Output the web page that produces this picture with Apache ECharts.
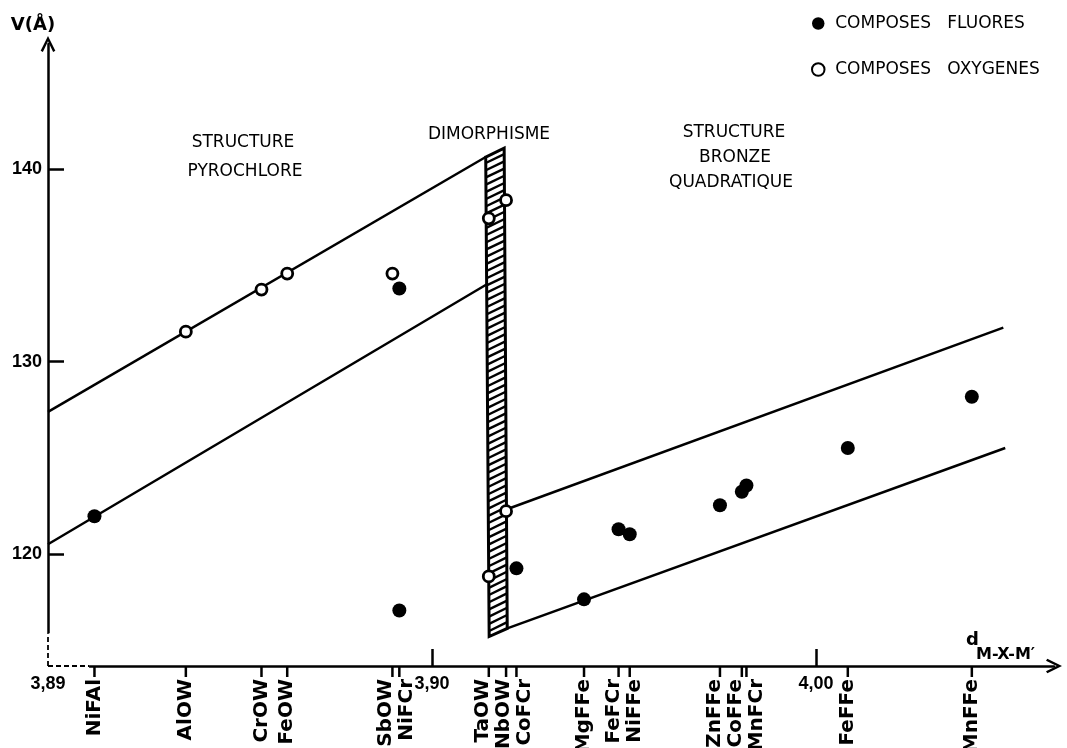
<!DOCTYPE html>
<html><head><meta charset="utf-8">
<script src="https://cdn.jsdelivr.net/npm/echarts@6/dist/echarts.min.js"></script>
<style>html,body{margin:0;padding:0;background:#fff}#c{width:1067px;height:748px}</style>
</head><body><div id="c"></div>
<script>
// ---- data ----
const xTickValues = [3.80, 3.90, 4.00];
const xTickLabels = ['3,89', '3,90', '4,00'];
const xMajorTicks = [3.90, 4.00];
const yTickValues = [120, 130, 140];
const yTickLabels = ['120', '130', '140'];

const compoundNames = ['NiFAl','AlOW','CrOW','FeOW','SbOW','NiFCr','TaOW','NbOW','CoFCr','MgFFe','FeFCr','NiFFe','ZnFFe','CoFFe','MnFCr','FeFFe','MnFFe'];
const compoundD = [3.8121,3.8359,3.8556,3.8623,3.8897,3.8915,3.9148,3.9193,3.9220,3.9396,3.9486,3.9515,3.9750,3.9807,3.9819,4.0083,4.0406];

const fluorideCompound = ['NiFAl','NiFCr','NiFCr','CoFCr','MgFFe','FeFCr','NiFFe','ZnFFe','CoFFe','MnFCr','FeFFe','MnFFe'];
const fluorideV = [121.98,133.80,117.08,119.27,117.66,121.30,121.04,122.55,123.25,123.57,125.52,128.18];

const oxideCompound = ['AlOW','CrOW','FeOW','SbOW','TaOW','NbOW','NbOW','TaOW'];
const oxideV = [131.56,133.75,134.58,134.58,137.45,138.39,122.24,118.85];

const pyroUpper = [[3.800,127.40],[3.9140,140.63]];
const pyroLower = [[3.800,120.52],[3.9142,134.01]];
const bronzeUpper = [[3.9195,122.34],[4.0488,131.77]];
const bronzeLower = [[3.9196,116.15],[4.0493,125.52]];
const dimorphBar = [[3.9140,140.63],[3.9188,141.09],[3.9196,116.15],[3.9149,115.73]];

const legendNames = ['COMPOSES   FLUORES', 'COMPOSES   OXYGENES'];

// ---- axis extents ----
const xMin = 3.80, xMax = 4.062, yMin = 114.2, yMax = 146.5;
const xBreak = 3.8107, yBreak = 115.9;

const dOf = name => compoundD[compoundNames.indexOf(name)];
const fluoridePts = fluorideCompound.map((c, i) => [dOf(c), fluorideV[i]]);
const oxidePts = oxideCompound.map((c, i) => [dOf(c), oxideV[i]]);

const arrowPath = 'path://M0,10L5,0L10,10L8.5,10.9L5,3.6L1.5,10.9Z';
const numFont = {fontFamily: 'Liberation Sans', fontWeight: 'bold', fontSize: 18, color: '#000'};
const titleFont = '17px "DejaVu Sans"';

function spread(xs, gap) {
  const p = xs.slice();
  for (let it = 0; it < 300; it++) {
    for (let i = 1; i < p.length; i++) {
      const diff = p[i] - p[i - 1];
      if (diff < gap) { const s = (gap - diff) / 2; p[i - 1] -= s; p[i] += s; }
    }
  }
  return p;
}

const lineSeries = (data) => ({
  type: 'line', data, symbol: 'none', silent: true, z: 3,
  lineStyle: {color: '#000', width: 2.5}, animation: false
});

const txt = (x, y, text, font, align) => ({type: 'text', x, y, style: {text, font: font || titleFont, fill: '#000', align: align || 'center', verticalAlign: 'middle'}});

const chart = echarts.init(document.getElementById('c'), null, {renderer: 'canvas'});
chart.setOption({
  backgroundColor: '#fff',
  animation: false,
  grid: {left: 48, right: 13, top: 44, bottom: 82, containLabel: false, outerBoundsMode: 'none'},
  xAxis: {
    type: 'value', min: xMin, max: xMax,
    splitLine: {show: false},
    axisLine: {show: true, onZero: false, lineStyle: {color: '#000', width: 2.5},
      symbol: ['none', arrowPath], symbolSize: [20, 16]},
    axisTick: {show: true, inside: true, length: 17, customValues: xMajorTicks, lineStyle: {color: '#000', width: 2.5}},
    axisLabel: {show: true, margin: 9, customValues: xTickValues, ...numFont,
      formatter: v => { const i = xTickValues.findIndex(t => Math.abs(t - v) < 1e-6); return i >= 0 ? xTickLabels[i] : ''; }}
  },
  yAxis: {
    type: 'value', min: yMin, max: yMax,
    splitLine: {show: false},
    axisLine: {show: true, onZero: false, lineStyle: {color: '#000', width: 2.5},
      symbol: ['none', arrowPath], symbolSize: [18, 16]},
    axisTick: {show: true, inside: true, length: 16, customValues: yTickValues, lineStyle: {color: '#000', width: 2.5}},
    axisLabel: {show: true, margin: 6, customValues: yTickValues, ...numFont,
      formatter: v => { const i = yTickValues.findIndex(t => Math.abs(t - v) < 1e-6); return i >= 0 ? yTickLabels[i] : ''; }}
  },
  legend: {
    orient: 'vertical', left: 806, top: 10, itemWidth: 24, itemHeight: 12.5, itemGap: 29,
    selectedMode: false,
    textStyle: {fontFamily: 'DejaVu Sans', fontSize: 17, color: '#000'},
    data: [{name: legendNames[0], icon: 'circle'}, {name: legendNames[1], icon: 'circle'}]
  },
  graphic: [
    txt(243, 143, 'STRUCTURE'),
    txt(245, 172, 'PYROCHLORE'),
    txt(489, 135, 'DIMORPHISME'),
    txt(734, 133, 'STRUCTURE'),
    txt(735, 158, 'BRONZE'),
    txt(731, 183, 'QUADRATIQUE'),
    txt(33, 25, 'V(Å)', 'bold 18px "DejaVu Sans"'),
    txt(966, 640, 'd', 'bold 18px "DejaVu Sans"', 'left'),
    txt(976, 655, 'M-X-M′', 'bold 16px "DejaVu Sans"', 'left')
  ],
  series: [
    lineSeries(pyroUpper),
    lineSeries(pyroLower),
    lineSeries(bronzeUpper),
    lineSeries(bronzeLower),
    {
      type: 'custom', name: 'dimorphisme', silent: true, z: 4, clip: false,
      data: [dimorphBar[0]],
      renderItem: (params, api) => {
        const P = dimorphBar.map(p => api.coord(p));
        const [TL, TR, BR, BL] = P;
        const children = [];
        const leftLen = BL[1] - TL[1];
        const rightLen = BR[1] - TR[1];
        const dy = TR[1] - TL[1];
        for (let t = 6; t < leftLen - 2; t += 7.2) {
          const yL = TL[1] + t;
          const xL = TL[0] + (BL[0] - TL[0]) * t / leftLen;
          const yR = yL + dy;
          const tr = (yR - TR[1]) / rightLen;
          if (tr < 0 || tr > 1) continue;
          const xR = TR[0] + (BR[0] - TR[0]) * tr;
          children.push({type: 'line', shape: {x1: xL, y1: yL, x2: xR, y2: yR}, style: {stroke: '#000', lineWidth: 2.4}});
        }
        children.push({type: 'polygon', shape: {points: P}, style: {fill: 'none', stroke: '#000', lineWidth: 3}});
        return {type: 'group', children};
      }
    },
    {
      type: 'scatter', name: legendNames[0], data: fluoridePts, symbol: 'circle', symbolSize: 14, z: 6,
      itemStyle: {color: '#000', opacity: 1}
    },
    {
      type: 'scatter', name: legendNames[1], data: oxidePts, symbol: 'circle', symbolSize: 11, z: 7,
      itemStyle: {color: '#fff', borderColor: '#000', borderWidth: 2.8, opacity: 1}
    },
    {
      type: 'custom', name: 'compounds', silent: true, z: 5, clip: false,
      data: compoundD.map(d => [d, yMin]),
      renderItem: (params, api) => {
        const i = params.dataIndex;
        const xs = compoundD.map(d => api.coord([d, yMin])[0]);
        const lx = spread(xs, 21);
        const p = api.coord([compoundD[i], yMin]);
        return {type: 'group', children: [
          {type: 'line', shape: {x1: p[0], y1: p[1], x2: p[0], y2: p[1] + 11}, style: {stroke: '#000', lineWidth: 2.5}},
          {type: 'text', x: lx[i], y: p[1] + 13, rotation: Math.PI / 2,
            style: {x: 0, y: 0, text: compoundNames[i], font: 'bold 20px "DejaVu Sans"', fill: '#000', align: 'right', verticalAlign: 'middle'}}
        ]};
      }
    },
    {
      type: 'custom', name: 'axisBreak', silent: true, z: 8, clip: false,
      data: [[xMin, yMin]],
      renderItem: (params, api) => {
        const o = api.coord([xMin, yMin]);
        const xb = api.coord([xBreak, yMin]);
        const yb = api.coord([xMin, yBreak]);
        return {type: 'group', children: [
          {type: 'line', shape: {x1: o[0] - 3, y1: o[1], x2: xb[0], y2: xb[1]}, style: {stroke: '#fff', lineWidth: 6}},
          {type: 'line', shape: {x1: o[0], y1: o[1] + 3, x2: yb[0], y2: yb[1]}, style: {stroke: '#fff', lineWidth: 6}},
          {type: 'line', shape: {x1: o[0], y1: o[1], x2: xb[0], y2: xb[1]}, style: {stroke: '#000', lineWidth: 1.8, lineDash: [5, 3]}},
          {type: 'line', shape: {x1: o[0], y1: o[1], x2: yb[0], y2: yb[1]}, style: {stroke: '#000', lineWidth: 1.8, lineDash: [5, 3]}}
        ]};
      }
    }
  ]
});
</script>
</body></html>
